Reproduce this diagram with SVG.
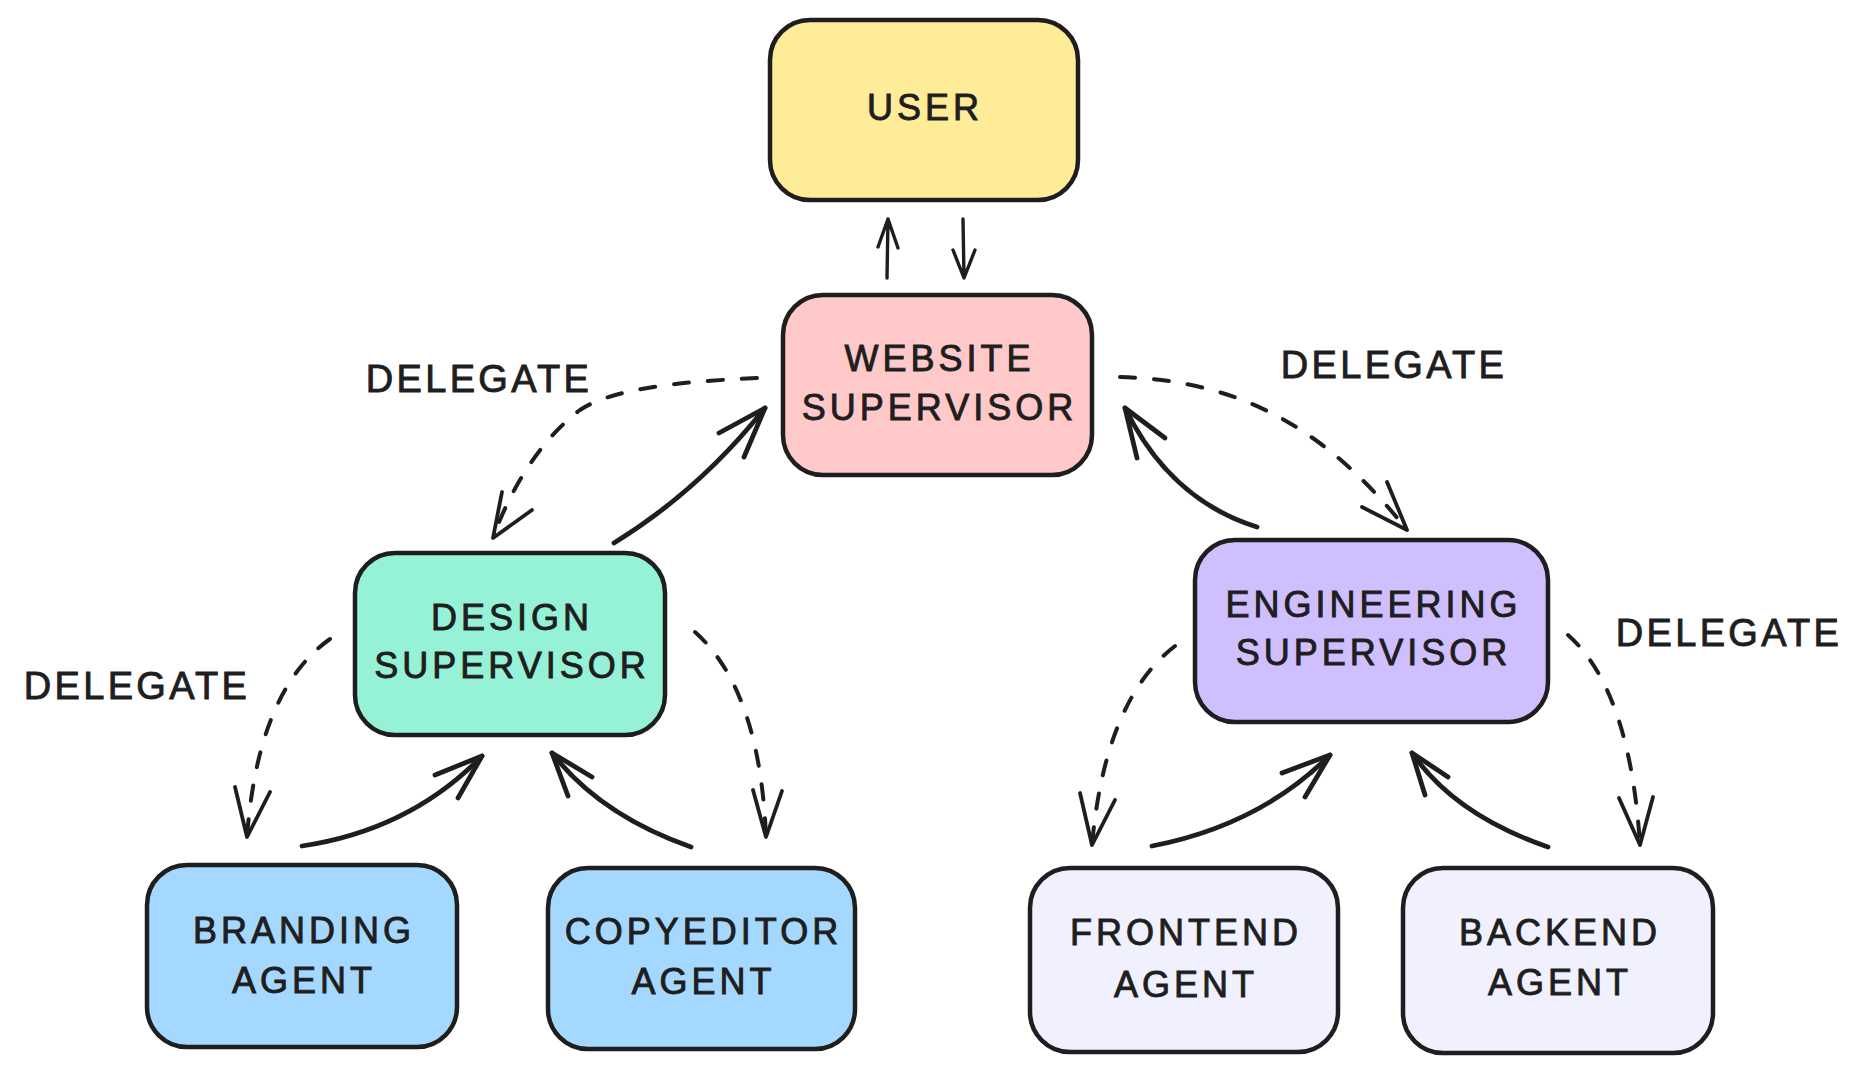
<svg xmlns="http://www.w3.org/2000/svg" width="1863" height="1071" viewBox="0 0 1863 1071">
<style>
.box{stroke:#1e1e1e;stroke-width:4.5;}
.lbl{font-family:"Liberation Sans","DejaVu Sans",sans-serif;font-size:36px;letter-spacing:4px;fill:#1e1e1e;stroke:#1e1e1e;stroke-width:0.9;text-anchor:middle;}
.del{font-family:"Liberation Sans","DejaVu Sans",sans-serif;font-size:38px;letter-spacing:3.3px;fill:#1e1e1e;stroke:#1e1e1e;stroke-width:0.9;text-anchor:middle;}
.dash{fill:none;stroke:#1e1e1e;stroke-width:4;stroke-linecap:round;stroke-dasharray:15 19;}
.solid{fill:none;stroke:#1e1e1e;stroke-width:4.8;stroke-linecap:round;stroke-linejoin:round;}
.thin{fill:none;stroke:#1e1e1e;stroke-width:3.4;stroke-linecap:round;stroke-linejoin:round;}
.head{fill:none;stroke:#1e1e1e;stroke-width:3.8;stroke-linecap:round;stroke-linejoin:round;}
</style>
<rect width="1863" height="1071" fill="#ffffff"/>
<g id="connectors">
  <path class="thin" d="M887,278 L888,219 M878,247 L888,219 L898,248"/>
  <path class="thin" d="M963,219 L964,278 M953,250 L964,278 L975,250"/>
  <path class="dash" d="M757,378 C670,382 610,390 580,410 C540,440 510,490 493,538"/>
  <path class="head" d="M502,492 L493,538 L532,510"/>
  <path class="solid" d="M614,543 Q700,490 765,408"/>
  <path class="solid" d="M719,433 L765,408 L744,457"/>
  <path class="dash" d="M1120,377 C1230,380 1320,420 1407,530"/>
  <path class="head" d="M1387,482 L1407,530 L1362,507"/>
  <path class="solid" d="M1257,527 Q1170,500 1125,408"/>
  <path class="solid" d="M1165,438 L1125,408 L1137,458"/>
  <path class="dash" d="M330,639 Q258,690 247,837"/>
  <path class="head" d="M235,787 L247,837 L270,792"/>
  <path class="solid" d="M302,846 Q410,830 482,756"/>
  <path class="solid" d="M435,775 L482,756 L458,798"/>
  <path class="solid" d="M691,847 Q600,815 552,753"/>
  <path class="solid" d="M592,777 L552,753 L568,796"/>
  <path class="dash" d="M695,632 Q760,690 766,837"/>
  <path class="head" d="M753,790 L766,837 L782,791"/>
  <path class="dash" d="M1175,646 Q1105,700 1092,845"/>
  <path class="head" d="M1080,793 L1092,845 L1115,800"/>
  <path class="solid" d="M1152,846 Q1260,825 1330,755"/>
  <path class="solid" d="M1282,773 L1330,755 L1305,797"/>
  <path class="solid" d="M1548,847 Q1455,815 1412,753"/>
  <path class="solid" d="M1448,777 L1412,753 L1425,795"/>
  <path class="dash" d="M1568,635 Q1630,690 1640,845"/>
  <path class="head" d="M1619,798 L1640,845 L1653,797"/>
  <text class="del" x="479" y="392">DELEGATE</text>
  <text class="del" x="1394" y="378">DELEGATE</text>
  <text class="del" x="137" y="699">DELEGATE</text>
  <text class="del" x="1729" y="646">DELEGATE</text>
</g>
<g id="user">
  <rect class="box" x="770" y="20" width="308" height="180" rx="40" fill="#ffec99"/>
  <text class="lbl" x="925" y="120">USER</text>
</g>
<g id="website-supervisor">
  <rect class="box" x="783" y="295" width="309" height="180" rx="40" fill="#ffc9c9"/>
  <text class="lbl" x="939.5" y="371">WEBSITE</text>
  <text class="lbl" x="939.5" y="420">SUPERVISOR</text>
</g>
<g id="design-supervisor">
  <rect class="box" x="355" y="553" width="310" height="182" rx="40" fill="#96f2d7"/>
  <text class="lbl" x="512" y="630">DESIGN</text>
  <text class="lbl" x="512" y="678">SUPERVISOR</text>
</g>
<g id="engineering-supervisor">
  <rect class="box" x="1195" y="540" width="353" height="182" rx="40" fill="#d0bfff"/>
  <text class="lbl" x="1373.5" y="617">ENGINEERING</text>
  <text class="lbl" x="1373.5" y="665">SUPERVISOR</text>
</g>
<g id="branding-agent">
  <rect class="box" x="147" y="865" width="310" height="182" rx="40" fill="#a5d8ff"/>
  <text class="lbl" x="304" y="943">BRANDING</text>
  <text class="lbl" x="304" y="993">AGENT</text>
</g>
<g id="copyeditor-agent">
  <rect class="box" x="548" y="868" width="307" height="181" rx="40" fill="#a5d8ff"/>
  <text class="lbl" x="703.5" y="944">COPYEDITOR</text>
  <text class="lbl" x="703.5" y="994">AGENT</text>
</g>
<g id="frontend-agent">
  <rect class="box" x="1030" y="868" width="308" height="184" rx="40" fill="#f1f0ff"/>
  <text class="lbl" x="1186" y="945">FRONTEND</text>
  <text class="lbl" x="1186" y="997">AGENT</text>
</g>
<g id="backend-agent">
  <rect class="box" x="1403" y="868" width="310" height="185" rx="40" fill="#f1f0ff"/>
  <text class="lbl" x="1560" y="945">BACKEND</text>
  <text class="lbl" x="1560" y="995">AGENT</text>
</g>
</svg>
